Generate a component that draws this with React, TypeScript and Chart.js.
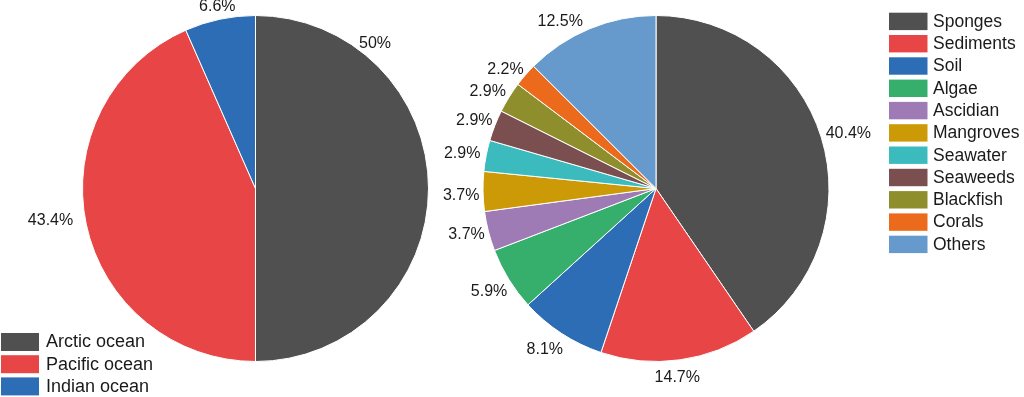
import React, { useEffect, useRef } from "react";
import { Chart, registerables } from "chart.js";

Chart.register(...registerables);

// ---- Data ----
const oceanLabels = ["Arctic ocean", "Pacific ocean", "Indian ocean"];
const oceanValues = [50, 43.4, 6.6];
const oceanColors = ["#505050", "#e84646", "#2c6db5"];

const sourceLabels = [
  "Sponges", "Sediments", "Soil", "Algae", "Ascidian", "Mangroves",
  "Seawater", "Seaweeds", "Blackfish", "Corals", "Others",
];
const sourceValues = [40.4, 14.7, 8.1, 5.9, 3.7, 3.7, 2.9, 2.9, 2.9, 2.2, 12.5];
const sourceColors = [
  "#505050", "#e84646", "#2c6db5", "#36ae6c", "#9f7bb6", "#cc9a06",
  "#3bbbbe", "#7b4f4f", "#8e8e2c", "#ec6a1b", "#6699cc",
];

const FONT = "'Liberation Sans', Arial, Helvetica, sans-serif";
const W = 1024;
const H = 397;

function makeDecor(cfg: any) {
  return {
    id: "pieDecor",
    afterDraw(chart: any) {
      const ctx = chart.ctx as CanvasRenderingContext2D;
      const meta = chart.getDatasetMeta(0);
      const ds = chart.data.datasets[0];
      ctx.save();
      // data labels
      ctx.font = cfg.labelFont;
      ctx.fillStyle = "#1a1a1a";
      ctx.textAlign = "center";
      ctx.textBaseline = "middle";
      meta.data.forEach((arc: any, i: number) => {
        const p = arc.getProps(["x", "y", "startAngle", "endAngle", "outerRadius"], true);
        const adj = cfg.labelAdjust[i] || [0, 0];
        const mid = (p.startAngle + p.endAngle) / 2 + (adj[0] * Math.PI) / 180;
        const r = p.outerRadius + cfg.labelGap + adj[1];
        const x = p.x + Math.cos(mid) * r;
        const y = p.y + Math.sin(mid) * r;
        ctx.fillText(String(ds.data[i]) + "%", x, y);
      });
      // legend
      const lg = cfg.legend;
      ctx.font = lg.font;
      ctx.textAlign = "left";
      chart.data.labels.forEach((lab: string, i: number) => {
        const top = lg.y + i * lg.pitch;
        ctx.fillStyle = ds.backgroundColor[i];
        ctx.fillRect(lg.x, top, lg.boxW, lg.boxH);
        ctx.fillStyle = "#1a1a1a";
        ctx.fillText(lab, lg.x + lg.boxW + lg.gap, top + lg.boxH / 2 + 0.5);
      });
      ctx.restore();
    },
  };
}

function PieCanvas({ labels, values, colors, padding, decor }: any) {
  const ref = useRef<HTMLCanvasElement | null>(null);
  useEffect(() => {
    if (!ref.current) return;
    const chart = new Chart(ref.current, {
      type: "pie",
      data: {
        labels,
        datasets: [
          {
            data: values,
            backgroundColor: colors,
            borderColor: "#ffffff",
            borderWidth: 1,
          },
        ],
      },
      options: {
        animation: false,
        responsive: false,
        maintainAspectRatio: false,
        layout: { padding },
        plugins: {
          legend: { display: false },
          tooltip: { enabled: false },
        },
      },
      plugins: [makeDecor(decor)],
    });
    return () => chart.destroy();
  }, []);
  return (
    <canvas
      ref={ref}
      width={W}
      height={H}
      style={{ position: "absolute", left: 0, top: 0, width: W, height: H }}
    />
  );
}

export default function App() {
  useEffect(() => {
    document.body.style.margin = "0";
  }, []);
  return (
    <div style={{ position: "fixed", left: 0, top: 0, width: W, height: H, background: "#ffffff" }}>
      <PieCanvas
        labels={oceanLabels}
        values={oceanValues}
        colors={oceanColors}
        padding={{ left: 82, right: 595, top: 15, bottom: 35 }}
        decor={{
          labelFont: `16px ${FONT}`,
          labelGap: 15,
          labelAdjust: [[-50.5, 0], [2.9, 19.5], [0, -2.5]],
          legend: { x: 1, y: 333, boxW: 38, boxH: 18, pitch: 22.2, gap: 7, font: `18px ${FONT}` },
        }}
      />
      <PieCanvas
        labels={sourceLabels}
        values={sourceValues}
        colors={sourceColors}
        padding={{ left: 482.5, right: 194.5, top: 15, bottom: 35 }}
        decor={{
          labelFont: `16px ${FONT}`,
          labelGap: 21,
          labelAdjust: [[1.3, 6], [1.5, -4], [1.4, 2], [0, 2], [0.6, 1], [-1, 1], [-0.6, 3], [-0.8, 0], [-2, 0], [-2.6, -2], [-7.4, -2]],
          legend: { x: 889, y: 12.7, boxW: 38.5, boxH: 17.4, pitch: 22.3, gap: 5.5, font: `17.5px ${FONT}` },
        }}
      />
    </div>
  );
}
